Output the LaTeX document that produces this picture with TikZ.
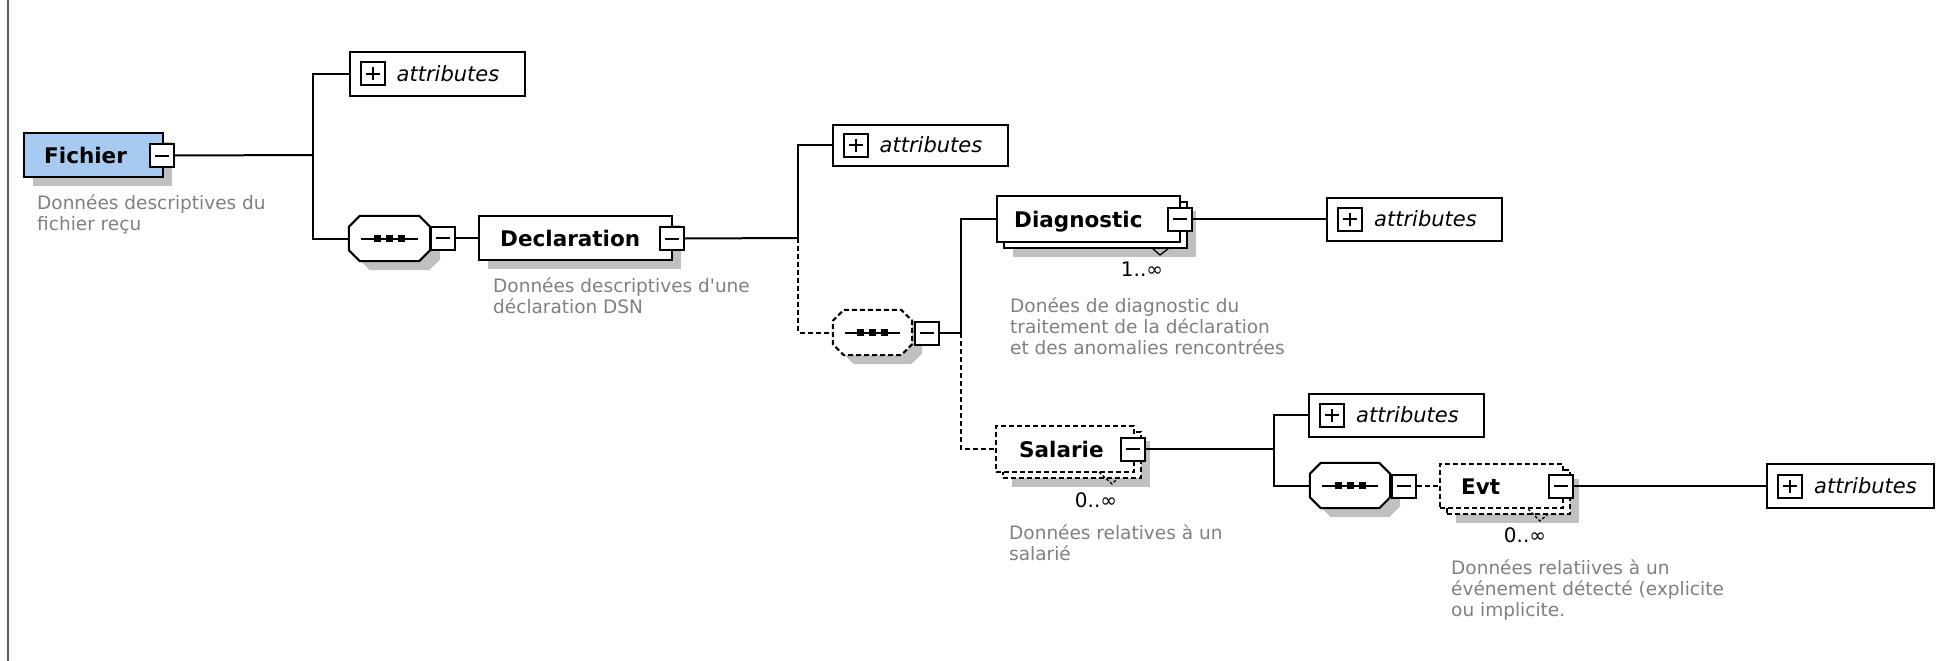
\documentclass[tikz,border=0pt]{standalone}
\usepackage{fontspec}
\setmainfont{DejaVu Sans}
\newfontfamily\descfont{DejaVu Sans}[Ligatures=TeXOff]
\usetikzlibrary{calc,shadows}
\definecolor{elemblue}{RGB}{166,202,240}
\definecolor{shadowgray}{RGB}{192,192,192}
\definecolor{descgray}{RGB}{128,128,128}
\definecolor{bordergray}{RGB}{90,90,90}
\newcommand\octpath[3]{($(#1.north west)+(11+#2,#3)$) -- ($(#1.north east)+(-11+#2,#3)$) -- ($(#1.north east)+(#2,11+#3)$) -- ($(#1.south east)+(#2,-11+#3)$) -- ($(#1.south east)+(-11+#2,#3)$) -- ($(#1.south west)+(11+#2,#3)$) -- ($(#1.south west)+(#2,-11+#3)$) -- ($(#1.north west)+(#2,11+#3)$) -- cycle}
\newcommand\seqsym[1]{%
  \draw[lw, solid] ($(#1.west)+(12,0)$) -- ($(#1.east)+(-12,0)$);
  \foreach \d in {-12,0,12} {\fill[black] ($(#1.center)+(\d-3.5,-3.5)$) rectangle ($(#1.center)+(\d+3.5,3.5)$);}}
\tikzset{
  lw/.style={line width=2pt},
  conn/.style={lw, draw=black},
  dconn/.style={conn, dash pattern=on 5pt off 3pt},
  shad/.style={drop shadow={shadow xshift=9pt, shadow yshift=-9pt, fill=shadowgray, opacity=1, draw=none}},
  elembox/.style={draw, lw, fill=white, inner sep=0pt, minimum height=45},
  optbox/.style={elembox, dash pattern=on 5pt off 3pt},
  minusbox/.style={draw, lw, solid, fill=white, minimum width=24, minimum height=23, inner sep=0pt,
    path picture={\draw[lw, solid] ([xshift=5pt]path picture bounding box.west) -- ([xshift=-5pt]path picture bounding box.east);}},
  plusbox/.style={draw, lw, solid, fill=white, minimum width=24, minimum height=23, inner sep=0pt,
    path picture={\draw[lw, solid] ([xshift=5pt]path picture bounding box.west) -- ([xshift=-5pt]path picture bounding box.east);
                  \draw[lw, solid] ([yshift=-5pt]path picture bounding box.north) -- ([yshift=5pt]path picture bounding box.south);}},
  attrbox/.style={draw, lw, fill=white, inner sep=0pt, minimum width=175, minimum height=43},
  seqbox/.style={inner sep=0pt, minimum width=81, minimum height=45},
  octline/.style={lw, fill=white},
  octdash/.style={octline, dash pattern=on 5pt off 3pt},
  nametext/.style={font=\fontsize{21.5}{26}\selectfont\bfseries, text=black, inner sep=0pt, anchor=base west},
  attrtext/.style={font=\fontsize{21}{25}\selectfont\itshape, text=black, inner sep=0pt, anchor=base west},
  desctext/.style={font=\descfont\fontsize{18.5}{21}\selectfont, text=descgray, align=left, inner sep=0pt, anchor=north west},
  multtext/.style={font=\fontsize{20}{23}\selectfont, text=black, inner sep=0pt, anchor=base},
}
\begin{document}
\begin{tikzpicture}[x=1pt,y=-1pt]
\fill[white] (0,0) rectangle (1936,661);
\useasboundingbox (0,0) rectangle (1936,661);
\draw[line width=2pt, bordergray] (8,0) -- (8,661);

% ---------- Fichier ----------
\node[elembox, shad, fill=elemblue, minimum width=139, minimum height=44] (fichier) at (93.5,155) {};
\node[nametext] (fichiert) at ($(fichier.west)+(21,8)$) {Fichier};
\node[minusbox] (fmin) at (162,155.5) {};
\node[desctext] (fichierd) at (37,195) {Données descriptives du\\fichier reçu};

\coordinate (j1) at (313,155);
\node[attrbox, minimum height=44] (attr1) at (437,74) {};
\node[plusbox] (p1) at ($(attr1.west)+(24,0)$) {};
\node[attrtext] (a1) at ($(attr1.west)+(48,7.5)$) {attributes};

\node[seqbox] (seq1) at (389.5,238.5) {};
\fill[shadowgray] \octpath{seq1}{10}{9};
\draw[octline] \octpath{seq1}{0}{0};
\seqsym{seq1}
\node[minusbox] (s1min) at (442.5,238) {};

% ---------- Declaration ----------
\node[elembox, shad, minimum width=193, minimum height=44] (decl) at (575.5,238) {};
\node[nametext] (declt) at ($(decl.west)+(22,8)$) {Declaration};
\node[minusbox] (dmin) at (672,238.5) {};
\node[desctext] (decld) at (493,278) {Données descriptives d'une\\déclaration DSN};

\coordinate (j2) at (798,238);
\node[attrbox, minimum height=41] (attr2) at (920,145) {};
\node[plusbox] (p2) at ($(attr2.west)+(24,0)$) {};
\node[attrtext] (a2) at ($(attr2.west)+(48,7.5)$) {attributes};

\node[seqbox, minimum width=79] (seq2) at (872.5,332.5) {};
\fill[shadowgray] \octpath{seq2}{10}{9};
\draw[octdash] \octpath{seq2}{0}{0};
\seqsym{seq2}
\node[minusbox] (s2min) at (926.5,333) {};
\coordinate (j3) at (961,333);

% ---------- Diagnostic ----------
\node[elembox, shad, minimum width=183, minimum height=46] (diagback) at (1095.5,225) {};
\node[elembox, minimum width=183, minimum height=46] (diag) at (1088.5,219) {};
\node[nametext] (diagt) at ($(diag.west)+(18,8)$) {Diagnostic};
\node[minusbox] (diagmin) at (1180,219) {};
\draw[line width=1.3pt] (1152,248) -- (1160,255) -- (1169,248);
\node[multtext] (diagm) at (1142,276) {1..∞};
\node[desctext] (diagd) at (1010,298) {Donées de diagnostic du\\traitement de la déclaration\\et des anomalies rencontrées};

\node[attrbox] (attr3) at (1414.5,219) {};
\node[plusbox] (p3) at ($(attr3.west)+(24,0)$) {};
\node[attrtext] (a3) at ($(attr3.west)+(48,7.5)$) {attributes};

% ---------- Salarie ----------
\node[optbox, shad, minimum width=138, minimum height=46] (salback) at (1072,455) {};
\node[optbox, minimum width=138, minimum height=46] (sal) at (1065,449) {};
\node[nametext] (salt) at ($(sal.west)+(24,8)$) {Salarie};
\node[minusbox] (salmin) at (1132.5,449) {};
\draw[line width=1.3pt, dash pattern=on 3pt off 2pt] (1099,472) -- (1112,484) -- (1119,477);
\node[multtext] (salm) at (1096,507) {0..∞};
\node[desctext] (sald) at (1009,524) {Données relatives à un\\salarié};

\coordinate (j4) at (1274,449);
\node[attrbox] (attr4) at (1396.5,415) {};
\node[plusbox] (p4) at ($(attr4.west)+(24,0)$) {};
\node[attrtext] (a4) at ($(attr4.west)+(48,7.5)$) {attributes};

\node[seqbox, minimum width=80] (seq3) at (1350,485.5) {};
\fill[shadowgray] \octpath{seq3}{10}{9};
\draw[octline] \octpath{seq3}{0}{0};
\seqsym{seq3}
\node[minusbox] (s3min) at (1403.5,486) {};

% ---------- Evt ----------
\node[optbox, shad, minimum width=123, minimum height=44] (evtback) at (1508.5,492) {};
\node[optbox, minimum width=123, minimum height=44] (evt) at (1501.5,486) {};
\node[nametext] (evtt) at ($(evt.west)+(22,8)$) {Evt};
\node[minusbox] (evtmin) at (1560.5,486) {};
\draw[line width=1.3pt, dash pattern=on 3pt off 2pt] (1528,509) -- (1540,521) -- (1548,514);
\node[multtext] (evtm) at (1525,542) {0..∞};
\node[desctext] (evtd) at (1451,559) {Données relatiives à un\\événement détecté (explicite\\ou implicite.};

\node[attrbox, minimum width=167, minimum height=44] (attr5) at (1850.5,486) {};
\node[plusbox] (p5) at ($(attr5.west)+(24,0)$) {};
\node[attrtext] (a5) at ($(attr5.west)+(48,7.5)$) {attributes};

% ---------- connectors ----------
\draw[conn] (fmin.east) -- (j1);
\draw[conn] (attr1.west) -| (j1) |- (seq1.west);
\draw[conn] (s1min.east) -- (decl.west);
\draw[conn] (dmin.east) -- (j2);
\draw[conn] (attr2.west) -| (j2);
\draw[dconn] (j2) |- (seq2.west);
\draw[conn] (s2min.east) -- (j3);
\draw[conn] (diag.west) -| (j3);
\draw[dconn] (j3) |- (sal.west);
\draw[conn] (diagmin.east) -- (attr3.west);
\draw[conn] (salmin.east) -- (j4);
\draw[conn] (attr4.west) -| (j4) |- (seq3.west);
\draw[dconn] (s3min.east) -- (evt.west);
\draw[conn] (evtmin.east) -- (attr5.west);
\end{tikzpicture}
\end{document}
